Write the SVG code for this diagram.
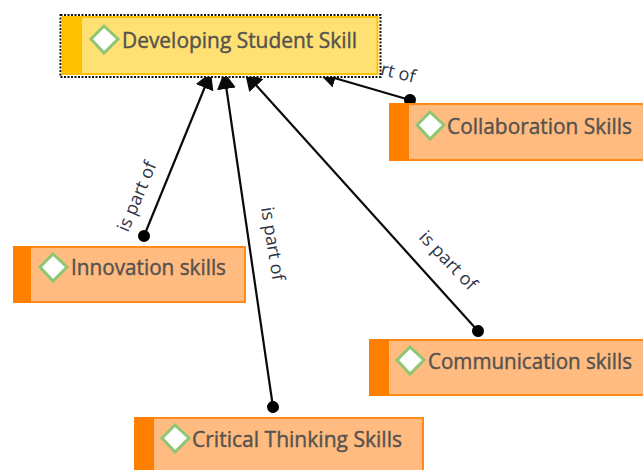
<svg xmlns="http://www.w3.org/2000/svg" width="643" height="470" viewBox="0 0 643 470">
<style>
.edge{stroke:#0a0a0a;stroke-width:2.2;fill:none;marker-end:url(#arrow);marker-start:url(#dot)}
.lbl{font:18px "Open Sans","Noto Sans",sans-serif;fill:#2f3448}
.t{font:400 21px "Open Sans","Noto Sans",sans-serif;fill:#55524f;stroke:#55524f;stroke-width:.4}
.body{fill:#ffbb80;stroke:#ff8a1a;stroke-width:2}
.bar{fill:#ff7f00}
.dia{fill:#fff;stroke:#8fc673;stroke-width:3}
</style>
<defs>
<marker id="arrow" markerUnits="userSpaceOnUse" markerWidth="20" markerHeight="20" refX="17" refY="9.500" orient="auto"><path d="M0 0L17 9.500L0 19Z" fill="#0a0a0a"/></marker>
<marker id="dot" markerUnits="userSpaceOnUse" markerWidth="14" markerHeight="14" refX="6.500" refY="6.500" orient="auto"><circle cx="6.500" cy="6.500" r="6" fill="#000"/></marker>
</defs>
<g id="connectors">
<path class="edge" d="M144 236L211 72"/>
<path class="edge" d="M273 407L224 72"/>
<path class="edge" d="M478 331L245 73"/>
<path class="edge" d="M410 100L319 73.500"/>
<text class="lbl" transform="translate(128 233) rotate(-67)">is part of</text>
<text class="lbl" transform="translate(261 208) rotate(81)">is part of</text>
<text class="lbl" transform="translate(418 238) rotate(46)">is part of</text>
<text class="lbl" transform="translate(342 65) rotate(14)">is part of</text>
</g>
<g id="node-developing">
<rect x="60.500" y="15" width="320" height="62" fill="#fff" stroke="#111" stroke-width="2" stroke-dasharray="2 1.500"/>
<rect x="62.500" y="17" width="315" height="57" fill="#ffe173" stroke="#ffc000" stroke-width="2"/>
<rect x="62" y="16" width="20" height="59" fill="#ffc000"/>
<path class="dia" d="M104 26L118 39L104 53L91 39Z"/>
<text class="t" x="122" y="47.500" textLength="235" lengthAdjust="spacingAndGlyphs">Developing Student Skill</text>
</g>
<g id="node-collaboration">
<rect class="body" x="390" y="104" width="260" height="56"/>
<rect class="bar" x="389" y="103" width="20" height="58"/>
<path class="dia" d="M430 112L444 125L430 139L417 125Z"/>
<text class="t" x="447" y="134" textLength="185" lengthAdjust="spacingAndGlyphs">Collaboration Skills</text>
</g>
<g id="node-innovation">
<rect class="body" x="14" y="247" width="231" height="55"/>
<rect class="bar" x="13" y="246" width="18" height="57"/>
<path class="dia" d="M53 254L67 267L53 281L40 267Z"/>
<text class="t" x="71" y="275" textLength="155" lengthAdjust="spacingAndGlyphs">Innovation skills</text>
</g>
<g id="node-communication">
<rect class="body" x="370" y="340" width="280" height="55"/>
<rect class="bar" x="369" y="339" width="20" height="57"/>
<path class="dia" d="M410 347L424 360L410 374L397 360Z"/>
<text class="t" x="428" y="369" textLength="204" lengthAdjust="spacingAndGlyphs">Communication skills</text>
</g>
<g id="node-critical">
<rect class="body" x="135" y="418" width="288" height="60"/>
<rect class="bar" x="134" y="417" width="20" height="60"/>
<path class="dia" d="M175 425L189 438L175 452L162 438Z"/>
<text class="t" x="192" y="447" textLength="210" lengthAdjust="spacingAndGlyphs">Critical Thinking Skills</text>
</g>
</svg>
